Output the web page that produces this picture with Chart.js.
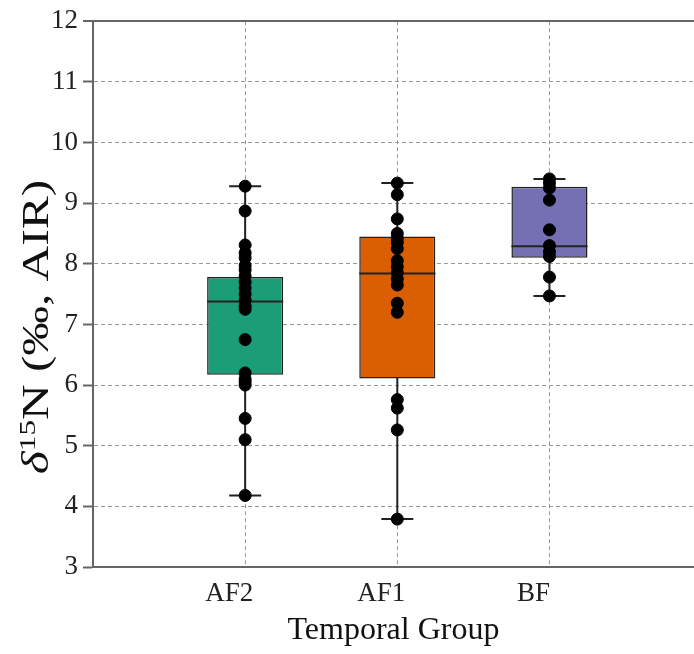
<!DOCTYPE html>
<html>
<head>
<meta charset="utf-8">
<script src="https://cdn.jsdelivr.net/npm/chart.js@4.4.0/dist/chart.umd.min.js"></script>
<style>
  html, body { margin: 0; padding: 0; background: #fff; }
  #wrap { width: 694px; height: 654px; }
</style>
</head>
<body>
<div id="wrap"><canvas id="boxChart" width="694" height="654"></canvas></div>
<script>
var groups = ['AF2', 'AF1', 'BF'];
var boxColors = ['#1b9e77', '#d95f02', '#7570b3'];

// individual samples (d15N, per mil)
var af2Values = [9.28, 8.87, 8.31, 8.18, 8.1, 7.97, 7.9, 7.8, 7.7, 7.6, 7.5, 7.4, 7.3, 7.25,
                 6.75, 6.2, 6.1, 6.05, 6.0, 5.45, 5.1, 4.18];
var af1Values = [9.33, 9.14, 8.74, 8.5, 8.42, 8.35, 8.25, 8.05, 7.95, 7.85, 7.75, 7.65,
                 7.35, 7.2, 5.76, 5.62, 5.26, 3.79];
var bfValues = [9.4, 9.33, 9.25, 9.05, 8.56, 8.3, 8.2, 8.12, 7.78, 7.47];

// box summary per group
var boxQ1 = [6.17, 6.11, 8.10];
var boxMedian = [7.38, 7.84, 8.29];
var boxQ3 = [7.78, 8.45, 9.27];
var whiskerLow = [4.18, 3.79, 7.47];
var whiskerHigh = [9.28, 9.33, 9.40];

var yTicks = [3, 4, 5, 6, 7, 8, 9, 10, 11, 12];

var allValues = [af2Values, af1Values, bfValues];
var points = [];
allValues.forEach(function(vals, i) {
    vals.forEach(function(v) { points.push({ x: i, y: v }); });
});

var boxPlugin = {
    id: 'boxParts',
    beforeDatasetsDraw: function(chart) {
        var ctx = chart.ctx, xs = chart.scales.x, ys = chart.scales.y;
        ctx.save();
        ctx.strokeStyle = '#222';
        ctx.lineWidth = 2;
        groups.forEach(function(g, i) {
            var cx = xs.getPixelForValue(i);
            ctx.beginPath();
            ctx.moveTo(cx, ys.getPixelForValue(whiskerHigh[i]));
            ctx.lineTo(cx, ys.getPixelForValue(whiskerLow[i]));
            [whiskerHigh[i], whiskerLow[i]].forEach(function(v) {
                var py = ys.getPixelForValue(v);
                ctx.moveTo(cx - 16, py);
                ctx.lineTo(cx + 16, py);
            });
            ctx.stroke();
        });
        ctx.restore();
    },
    afterDatasetDraw: function(chart, args) {
        if (args.index !== 1) return;
        var ctx = chart.ctx, ys = chart.scales.y;
        var bars = chart.getDatasetMeta(1).data;
        ctx.save();
        ctx.strokeStyle = '#222';
        ctx.lineWidth = 2;
        bars.forEach(function(bar, i) {
            var py = ys.getPixelForValue(boxMedian[i]);
            ctx.beginPath();
            ctx.moveTo(bar.x - bar.width / 2, py);
            ctx.lineTo(bar.x + bar.width / 2, py);
            ctx.stroke();
        });
        ctx.restore();
    }
};

// y axis title with italic delta and superscript 15
var yTitlePlugin = {
    id: 'yTitle',
    afterDraw: function(chart) {
        var ctx = chart.ctx;
        var parts = [
            { t: 'δ', font: 'italic 38px "Liberation Serif"', dy: 0 },
            { t: '15', font: '24px "Liberation Serif"', dy: -13 },
            { t: 'N (‰, AIR)', font: '38px "Liberation Serif"', dy: 0 }
        ];
        var total = 0;
        parts.forEach(function(p) { ctx.font = p.font; p.w = ctx.measureText(p.t).width; total += p.w; });
        ctx.save();
        ctx.translate(48, 327);
        ctx.rotate(-Math.PI / 2);
        ctx.scale(1.3, 1);
        ctx.fillStyle = '#111';
        ctx.textBaseline = 'alphabetic';
        var x = -total / 2;
        parts.forEach(function(p) {
            ctx.font = p.font;
            ctx.fillText(p.t, x, p.dy);
            x += p.w;
        });
        ctx.restore();
    }
};

var boxChart = new Chart(document.getElementById('boxChart'), {
    type: 'scatter',
    data: {
        datasets: [{
            type: 'scatter',
            label: 'samples',
            data: points,
            backgroundColor: '#000',
            borderColor: '#000',
            pointRadius: 6,
            pointHoverRadius: 6,
            order: 0
        },
        {
            type: 'bar',
            label: 'IQR',
            data: groups.map(function(g, i) { return { x: i, y: [boxQ1[i], boxQ3[i]] }; }),
            backgroundColor: boxColors,
            borderColor: '#222',
            borderWidth: 1.5,
            borderSkipped: false,
            barPercentage: 0.5,
            categoryPercentage: 1,
            order: 1
        }]
    },
    options: {
        responsive: false,
        animation: false,
        events: [],
        layout: { autoPadding: false, padding: { top: 20, right: 0, left: 0, bottom: 0 } },
        plugins: { legend: { display: false }, tooltip: { enabled: false } },
        scales: {
            x: {
                type: 'linear',
                min: -1,
                max: 2.95,
                offset: false,
                afterBuildTicks: function(scale) {
                    scale.ticks = groups.map(function(g, i) { return { value: i }; });
                },
                afterFit: function(scale) { scale.height = 87; },
                grid: { offset: false, color: '#999', lineWidth: 1, drawTicks: false },
                border: { display: true, color: '#666', width: 2, dash: [4, 3] },
                ticks: {
                    padding: 11,
                    labelOffset: -16,
                    color: '#222',
                    font: { family: 'Liberation Serif', size: 27 },
                    callback: function(v) { return groups[v]; }
                },
                title: {
                    display: true,
                    text: 'Temporal Group',
                    color: '#111',
                    font: { family: 'Liberation Serif', size: 32 },
                    padding: { top: 0, bottom: 4 }
                }
            },
            y: {
                min: 3,
                max: 12,
                afterBuildTicks: function(scale) {
                    scale.ticks = yTicks.map(function(v) { return { value: v }; });
                },
                afterFit: function(scale) { scale.width = 93; },
                grid: {
                    color: function(c) { return c.tick && c.tick.value === 12 ? '#666' : '#999'; },
                    lineWidth: function(c) { return c.tick && c.tick.value === 12 ? 2 : 1; },
                    tickColor: '#666',
                    tickWidth: 2,
                    tickLength: 10,
                    tickBorderDash: []
                },
                border: {
                    display: true, color: '#666', width: 2,
                    dash: function(c) { return c.tick && c.tick.value === 12 ? [] : [4, 3]; }
                },
                ticks: {
                    padding: 5,
                    color: '#222',
                    font: { family: 'Liberation Serif', size: 27 }
                }
            }
        }
    },
    plugins: [boxPlugin, yTitlePlugin]
});
</script>
</body>
</html>
